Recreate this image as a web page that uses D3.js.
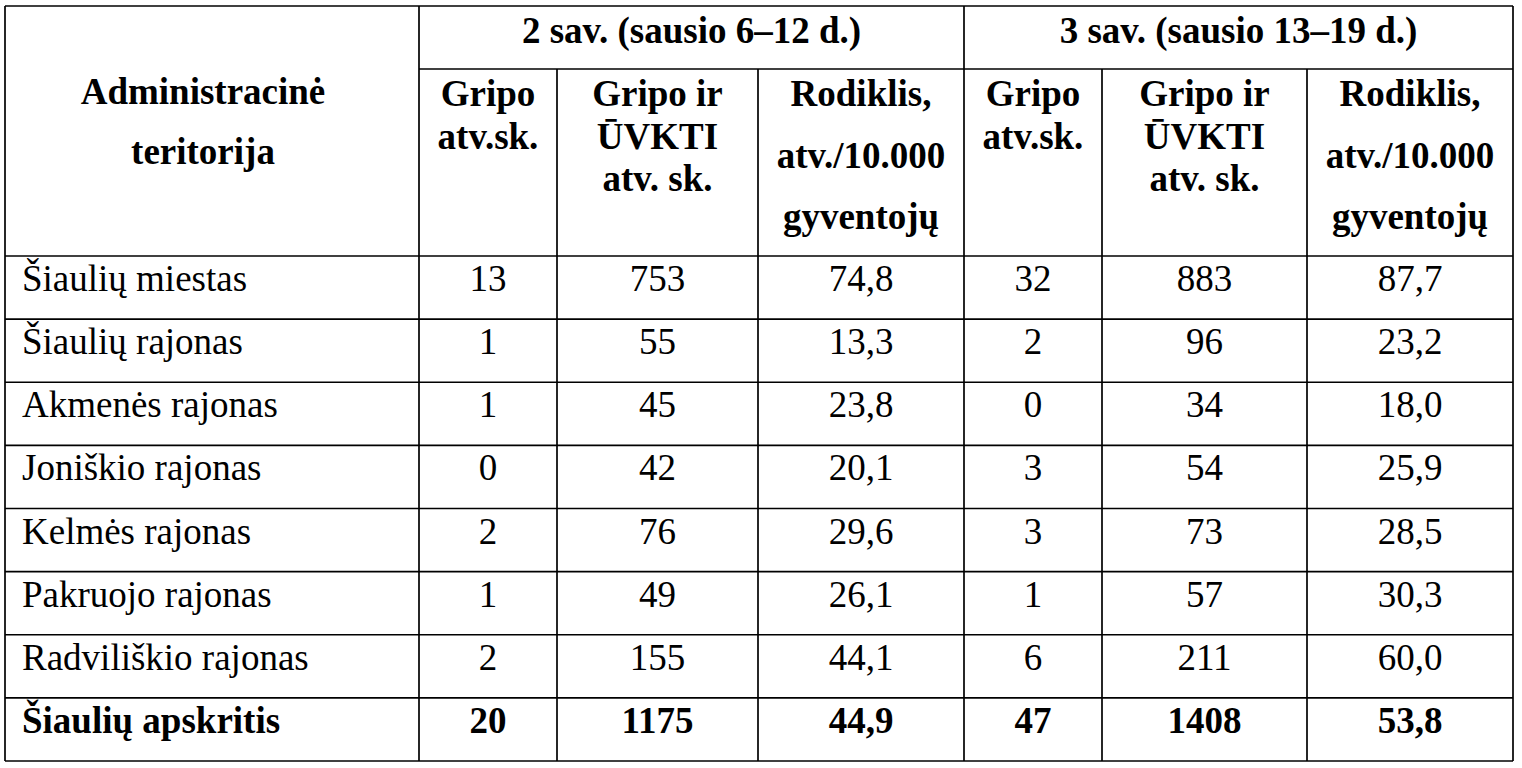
<!DOCTYPE html>
<html lang="lt">
<head>
<meta charset="UTF-8">
<script src="https://d3js.org/d3.v7.min.js"></script>
<title>Gripas</title>
<style>
  body { margin: 0; background: #fff; }
  svg text { font-family: 'Liberation Serif', 'Times New Roman', Tinos, serif; fill: #000; }
</style>
</head>
<body>
<svg id="table" width="1522" height="768"></svg>
<script>
// data
const regions = ["Šiaulių miestas", "Šiaulių rajonas", "Akmenės rajonas", "Joniškio rajonas",
                 "Kelmės rajonas", "Pakruojo rajonas", "Radviliškio rajonas", "Šiaulių apskritis"];
const flu2 = [13, 1, 1, 0, 2, 1, 2, 20];
const fluArvi2 = [753, 55, 45, 42, 76, 49, 155, 1175];
const rate2 = [74.8, 13.3, 23.8, 20.1, 29.6, 26.1, 44.1, 44.9];
const flu3 = [32, 2, 0, 3, 3, 1, 6, 47];
const fluArvi3 = [883, 96, 34, 54, 73, 57, 211, 1408];
const rate3 = [87.7, 23.2, 18.0, 25.9, 28.5, 30.3, 60.0, 53.8];

const firstHeader = ["Administracinė", "teritorija"];
const weekLabels = ["2 sav. (sausio 6–12 d.)", "3 sav. (sausio 13–19 d.)"];
const subHeaders = [["Gripo", "atv.sk."], ["Gripo ir", "ŪVKTI", "atv. sk."], ["Rodiklis,", "atv./10.000", "gyventojų"]];

const svg = d3.select("svg#table");
const tLeft = 5, tRight = 1513, tTop = 6, midY = 69, headBottom = 256, tBottom = 761;
const colEdges = [5, 419, 557, 758, 964, 1102, 1307, 1513];
const lineW = 1.7;
const fontSize = 37;

const yRow = d3.scaleBand().domain(regions).range([headBottom, tBottom]);
const colCenter = i => (colEdges[i] + colEdges[i + 1]) / 2;
const fmtRate = d => d3.format(".1f")(d).replace(".", ",");

// grid
const grid = svg.append("g").attr("stroke", "#000").attr("stroke-width", lineW);
const hLines = [tTop, headBottom].concat(regions.map(r => yRow(r) + yRow.bandwidth()));
hLines.forEach(y => grid.append("line").attr("x1", tLeft).attr("x2", tRight).attr("y1", y).attr("y2", y));
grid.append("line").attr("x1", colEdges[1]).attr("x2", tRight).attr("y1", midY).attr("y2", midY);
colEdges.forEach((x, i) => {
  const full = i === 0 || i === 1 || i === 4 || i === 7;
  grid.append("line").attr("x1", x).attr("x2", x).attr("y1", full ? tTop : midY).attr("y2", tBottom);
});

// header
const head = svg.append("g").attr("font-weight", "bold").attr("font-size", fontSize).attr("text-anchor", "middle");
firstHeader.forEach((t, i) => head.append("text").attr("x", 203).attr("y", 104 + i * 60).text(t));
weekLabels.forEach((t, g) => head.append("text")
  .attr("x", (colEdges[1 + g * 3] + colEdges[4 + g * 3]) / 2).attr("y", 43).text(t));
[0, 1].forEach(g => subHeaders.forEach((lines, k) => {
  const step = k === 2 ? 61.5 : 42.5;
  lines.forEach((t, j) => head.append("text")
    .attr("x", colCenter(1 + g * 3 + k)).attr("y", 106 + j * step).text(t));
}));

// body
const cols = [flu2, fluArvi2, rate2, flu3, fluArvi3, rate3];
const isRate = [false, false, true, false, false, true];
const body = svg.append("g").attr("font-size", fontSize);
regions.forEach((r, i) => {
  const last = i === regions.length - 1;
  const y = yRow(r) + 35;
  body.append("text").attr("x", 22).attr("y", y)
    .attr("font-weight", last ? "bold" : null).text(r);
  cols.forEach((arr, c) => body.append("text")
    .attr("x", colCenter(c + 1)).attr("y", y).attr("text-anchor", "middle")
    .attr("font-weight", last ? "bold" : null)
    .text(isRate[c] ? fmtRate(arr[i]) : arr[i]));
});
</script>
</body>
</html>
